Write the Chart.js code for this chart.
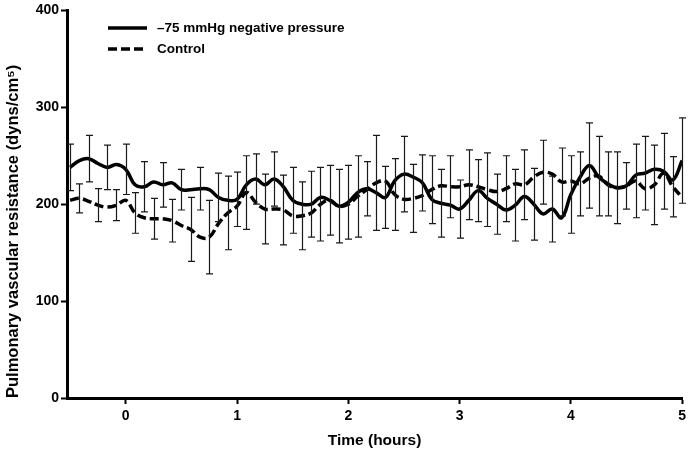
<!DOCTYPE html>
<html>
<head>
<meta charset="utf-8">
<script src="https://cdn.jsdelivr.net/npm/chart.js@4/dist/chart.umd.min.js"></script>
<style>
  html, body { margin: 0; padding: 0; background: #fff; }
  #wrap { width: 690px; height: 454px; }
</style>
</head>
<body>
<div id="wrap"><canvas id="c" width="690" height="454"></canvas></div>
<script>
// Sample times in minutes relative to start of treatment
const timesMin = [-30,-25,-20,-15,-10,-5,0,5,10,15,20,25,30,35,40,45,50,55,60,65,70,75,80,85,90,95,100,105,110,115,120,125,130,135,140,145,150,155,160,165,170,175,180,185,190,195,200,205,210,215,220,225,230,235,240,245,250,255,260,265,270,275,280,285,290,295,300];

const seriesNames = ['\u201375 mmHg negative pressure', 'Control'];

// Pulmonary vascular resistance, mean values
const negPressure = [238,245,247,242,238,241,236,220,218,223,
                     220,222,215,215,216,215,207,204,205,220,
                     226,220,226,218,204,200,200,207,204,198,
                     202,212,216,212,207,224,231,228,222,205,
                     201,199,195,204,214,206,200,194,199,208,
                     200,190,195,186,210,228,240,228,221,217,
                     219,230,232,236,234,225,245];
const control =     [204,206,203,199,197,199,204,191,186,185,
                     185,183,178,174,166,166,180,191,198,212,
                     202,195,195,194,188,188,191,200,204,198,
                     200,208,215,222,224,210,205,206,209,215,
                     219,218,218,220,218,215,213,216,221,220,
                     228,233,231,223,224,221,227,229,220,217,
                     219,224,216,220,232,218,207];

// Error bar half-lengths (null where no bar drawn for that series)
const negPressureErr = [24,null,24,null,23,null,26,null,26,null,
                        23,null,21,null,22,null,25,null,28,null,
                        26,null,28,null,34,null,34,null,36,null,
                        38,null,28,null,32,null,39,null,29,null,
                        35,null,30,null,32,null,31,null,37,null,
                        37,null,34,null,40,null,44,null,33,null,
                        24,null,38,null,39,null,44];
const controlErr =     [null,15,null,17,null,16,null,21,null,21,
                        null,22,null,33,null,38,null,38,null,38,
                        null,36,null,36,null,35,null,38,null,38,
                        null,42,null,49,null,37,null,35,null,35,
                        null,32,null,36,null,38,null,34,null,36,
                        null,33,null,35,null,33,null,41,null,37,
                        null,38,null,41,null,31,null];

const xTicks = [0,1,2,3,4,5];
const yTicks = [0,100,200,300,400];

const FONT = "'Liberation Sans', Arial, sans-serif";

function pts(vals) { return vals.map((v, i) => ({ x: timesMin[i] / 60, y: v })); }

const errorBars = {
  id: 'errorBars',
  afterDatasetsDraw(chart) {
    const ctx = chart.ctx;
    const ys = chart.scales.y;
    const errs = [negPressureErr, controlErr];
    const vals = [negPressure, control];
    ctx.save();
    ctx.strokeStyle = '#1a1a1a';
    ctx.lineWidth = 1.2;
    chart.data.datasets.forEach((ds, di) => {
      const meta = chart.getDatasetMeta(di);
      meta.data.forEach((el, i) => {
        const e = errs[di][i];
        if (e == null) return;
        const x = Math.round(el.x) + 0.5;
        const yt = ys.getPixelForValue(vals[di][i] + e);
        const yb = ys.getPixelForValue(vals[di][i] - e);
        ctx.beginPath();
        ctx.moveTo(x, yt); ctx.lineTo(x, yb);
        ctx.moveTo(x - 3.5, yt); ctx.lineTo(x + 3.5, yt);
        ctx.moveTo(x - 3.5, yb); ctx.lineTo(x + 3.5, yb);
        ctx.stroke();
      });
    });
    ctx.restore();
  }
};

const legendInside = {
  id: 'legendInside',
  afterDraw(chart) {
    const ctx = chart.ctx;
    ctx.save();
    ctx.strokeStyle = '#000';
    ctx.lineWidth = 3.5;
    ctx.lineCap = 'butt';
    ctx.beginPath(); ctx.setLineDash([]);
    ctx.moveTo(108, 28); ctx.lineTo(147, 28); ctx.stroke();
    ctx.beginPath(); ctx.setLineDash([9, 4]);
    ctx.moveTo(108, 49); ctx.lineTo(147, 49); ctx.stroke();
    ctx.setLineDash([]);
    ctx.fillStyle = '#000';
    ctx.font = 'bold 13.5px ' + FONT;
    ctx.textBaseline = 'middle';
    ctx.textAlign = 'left';
    ctx.fillText(seriesNames[0], 157, 28);
    ctx.fillText(seriesNames[1], 157, 49);
    ctx.restore();
  }
};

new Chart(document.getElementById('c'), {
  type: 'line',
  data: {
    datasets: [
      {
        label: seriesNames[0],
        data: pts(negPressure),
        borderColor: '#000',
        borderWidth: 3.5,
        pointRadius: 0,
        tension: 0.4,
        fill: false
      },
      {
        label: seriesNames[1],
        data: pts(control),
        borderColor: '#000',
        borderWidth: 3.5,
        borderDash: [9, 4],
        pointRadius: 0,
        tension: 0.4,
        fill: false
      }
    ]
  },
  options: {
    responsive: false,
    animation: false,
    devicePixelRatio: 1,
    layout: { padding: { top: 7, right: 5, left: 0, bottom: 0 } },
    plugins: {
      legend: { display: false },
      tooltip: { enabled: false }
    },
    scales: {
      x: {
        type: 'linear',
        min: -0.528,
        max: 5,
        afterBuildTicks(scale) { scale.ticks = xTicks.map(v => ({ value: v })); },
        afterFit(scale) { scale.height = 56; },
        grid: { drawOnChartArea: false, drawTicks: true, tickLength: 6, tickWidth: 2, tickColor: '#000' },
        border: { display: true, color: '#000', width: 3 },
        ticks: { color: '#000', font: { family: FONT, size: 14, weight: 'bold' }, padding: 4, maxRotation: 0 },
        title: { display: true, text: 'Time (hours)', color: '#000', font: { family: FONT, size: 15.5, weight: 'bold' }, padding: { top: 0, bottom: 4 } }
      },
      y: {
        min: 0,
        max: 400,
        afterBuildTicks(scale) { scale.ticks = yTicks.map(v => ({ value: v })); },
        afterFit(scale) { scale.width = 67; },
        grid: { drawOnChartArea: false, drawTicks: true, tickLength: 6, tickWidth: 2, tickColor: '#000' },
        border: { display: true, color: '#000', width: 3 },
        ticks: { color: '#000', font: { family: FONT, size: 14, weight: 'bold' }, padding: 2 },
        title: { display: true, align: 'start', text: 'Pulmonary vascular resistance (dyns/cm\u2075)', color: '#000', font: { family: FONT, size: 16.5, weight: 'bold' }, padding: { top: 4, bottom: 0 } }
      }
    }
  },
  plugins: [errorBars, legendInside]
});
</script>
</body>
</html>
